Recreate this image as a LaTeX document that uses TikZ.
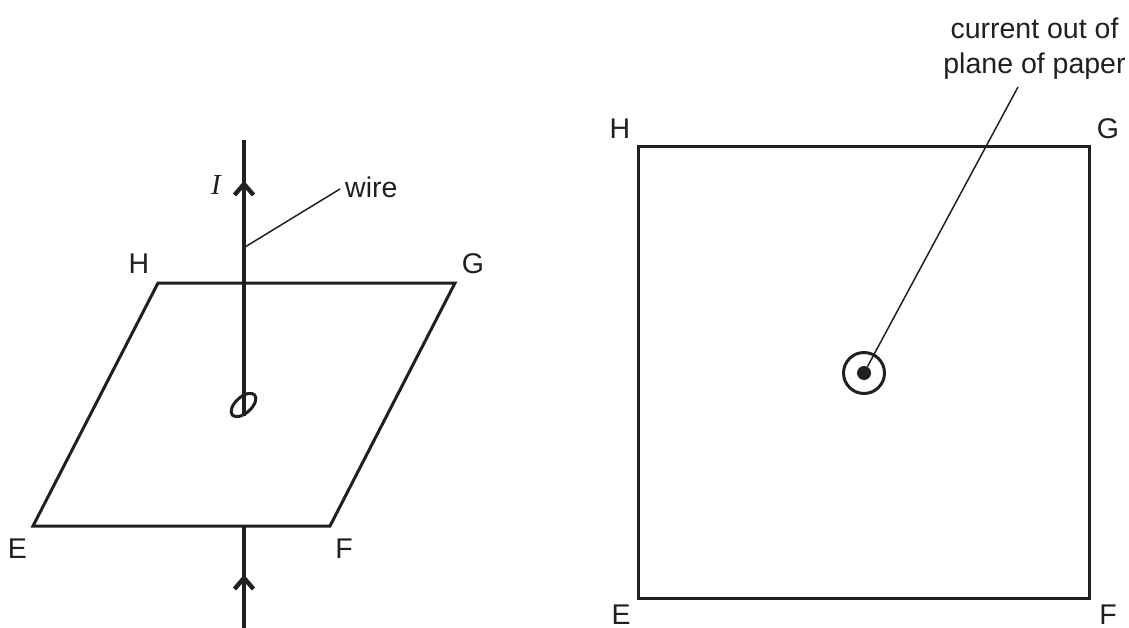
\documentclass[tikz,border=0pt]{standalone}
\usepackage{fontspec}
\setmainfont{Liberation Sans}
\newfontfamily\serifit{Liberation Serif}
\usetikzlibrary{shapes.geometric}
\definecolor{inkblack}{HTML}{231F20}
\begin{document}
\begin{tikzpicture}[x=1pt,y=-1pt,color=inkblack]
\tikzset{label/.style = {inner sep=0pt,font=\fontsize{28.5}{35}\selectfont}}
\tikzset{plate/.style = {line width=3pt,line join=miter}}
\tikzset{wire/.style = {line width=4.4pt}}
\tikzset{leader/.style = {line width=1.5pt}}
\useasboundingbox (0,0) rectangle (1129,628);
% plane seen at an angle
\coordinate (h1) at (158,283);
\coordinate (g1) at (455,283);
\coordinate (f1) at (330,526);
\coordinate (e1) at (33,526);
\draw[plate] (h1) -- (g1) -- (f1) -- (e1) -- cycle;
\node[label] (lh1) at (139,264) {H};
\node[label] (lg1) at (473,264) {G};
\node[label] (le1) at (17.5,549) {E};
\node[label] (lf1) at (344,549) {F};
% wire through the plane
\coordinate (top) at (244,140);
\coordinate (hole) at (244,416);
\coordinate (bottom) at (244,628);
\coordinate (edge) at (244,526);
\draw[wire] (hole) -- (top);
\draw[wire] (bottom) -- (edge);
% arrowheads on the wire
\coordinate (upl) at (234.5,195);
\coordinate (upb) at (244,184);
\coordinate (upr) at (253.5,195);
\coordinate (lowl) at (234.5,589);
\coordinate (lowb) at (244,578);
\coordinate (lowr) at (253.5,589);
\draw[wire] (upl) -- (upb) -- (upr);
\draw[wire] (lowl) -- (lowb) -- (lowr);
\node[draw,ellipse,line width=3pt,minimum width=30pt,minimum height=16pt,inner sep=0pt,rotate=42] (ring) at (243.5,405) {};
\node[inner sep=0pt,font=\fontsize{29}{29}\selectfont\serifit\itshape] (current) at (216,185) {I};
\node[label,anchor=west] (wire) at (345,187) {wire};
\coordinate (onwire) at (245,247);
\coordinate (wireend) at (340,189);
\draw[leader] (onwire) -- (wireend);
% plane seen from above
\node[draw,plate,minimum width=451pt,minimum height=451pt,inner sep=0pt] (square) at (863.5,372.5) {};
\node[label] (lh2) at (620,129) {H};
\node[label] (lg2) at (1108,129) {G};
\node[label] (le2) at (621,614.5) {E};
\node[label] (lf2) at (1108,614.5) {F};
\node[draw,circle,line width=3pt,minimum size=41pt,inner sep=0pt] (ring2) at (864,373) {};
\node[fill,circle,minimum size=14pt,inner sep=0pt] (dot) at (864,373) {};
\node[label,align=center] (note) at (1034.5,49) {current out of\\plane of paper};
\coordinate (noteend) at (1018,87);
\draw[leader] (noteend) -- (dot);
\end{tikzpicture}
\end{document}
